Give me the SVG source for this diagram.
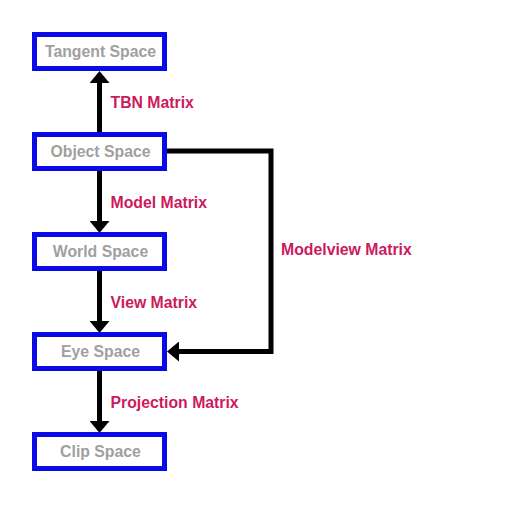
<svg xmlns="http://www.w3.org/2000/svg" width="512" height="512" viewBox="0 0 512 512">
<style>
.box{fill:#fff;stroke:#0a0ae6;stroke-width:5}
.nt{font-family:"Liberation Sans",Arial,sans-serif;font-weight:bold;font-size:15.8px;fill:#a0a0a0;text-anchor:middle}
.lb{font-family:"Liberation Sans",Arial,sans-serif;font-weight:bold;font-size:15.8px;fill:#cc1a5e}
.cn{fill:none;stroke:#000;stroke-width:5}
</style>
<defs>
<marker id="ah" markerUnits="userSpaceOnUse" viewBox="0 0 12 20" markerWidth="12" markerHeight="20" refX="0" refY="10" orient="auto">
<path d="M0,0 L12,10 L0,20 z" fill="#000"/>
</marker>
</defs>
<rect width="512" height="512" fill="#fff"/>
<g id="connectors">
<path class="cn" d="M99.5,132 V83" marker-end="url(#ah)"/>
<path class="cn" d="M99.5,171 V221" marker-end="url(#ah)"/>
<path class="cn" d="M99.5,271 V321" marker-end="url(#ah)"/>
<path class="cn" d="M99.5,371 V421" marker-end="url(#ah)"/>
<path class="cn" d="M167,151 H271 V351.5 H179" marker-end="url(#ah)"/>
<text class="lb" x="110.5" y="107.5">TBN Matrix</text>
<text class="lb" x="110.5" y="207.5">Model Matrix</text>
<text class="lb" x="110.5" y="307.5">View Matrix</text>
<text class="lb" x="110.5" y="407.5">Projection Matrix</text>
<text class="lb" x="281" y="255">Modelview Matrix</text>
</g>
<g id="tangent"><rect class="box" x="34.5" y="34.5" width="130" height="34"/><text class="nt" x="100.5" y="57">Tangent Space</text></g>
<g id="object"><rect class="box" x="34.5" y="134.5" width="130" height="34"/><text class="nt" x="100.5" y="157">Object Space</text></g>
<g id="world"><rect class="box" x="34.5" y="234.5" width="130" height="34"/><text class="nt" x="100.5" y="257">World Space</text></g>
<g id="eye"><rect class="box" x="34.5" y="334.5" width="130" height="34"/><text class="nt" x="100.5" y="357">Eye Space</text></g>
<g id="clip"><rect class="box" x="34.5" y="434.5" width="130" height="34"/><text class="nt" x="100.5" y="457">Clip Space</text></g>
</svg>
